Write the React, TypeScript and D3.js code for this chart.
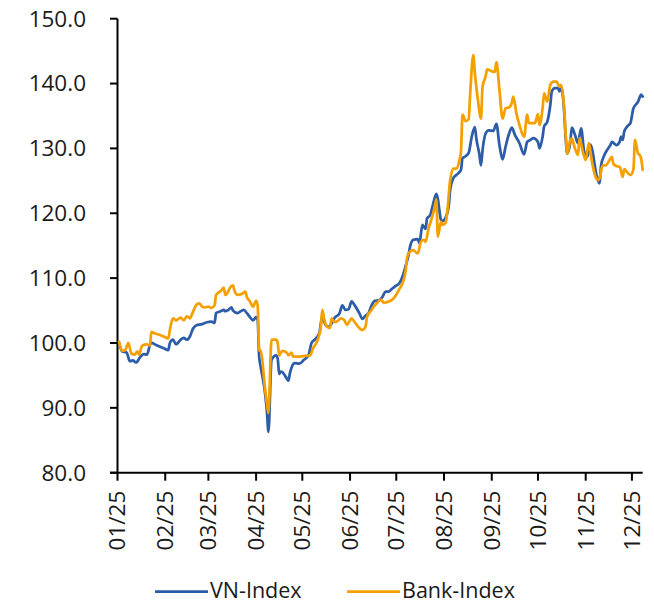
import React from "react";
import * as d3 from "d3";

// VN-Index (rebased, 01/01/2025 = 100)
const vnDates = [
  "2025-01-02","2025-01-04","2025-01-06","2025-01-07","2025-01-09","2025-01-11","2025-01-13","2025-01-16","2025-01-18","2025-01-20",
  "2025-01-21","2025-01-22","2025-01-23","2025-01-26","2025-01-31","2025-02-03","2025-02-04","2025-02-06","2025-02-08","2025-02-11",
  "2025-02-13","2025-02-15","2025-02-17","2025-02-19","2025-02-21","2025-02-25","2025-02-28","2025-03-03","2025-03-05","2025-03-06",
  "2025-03-09","2025-03-11","2025-03-12","2025-03-14","2025-03-16","2025-03-17","2025-03-20","2025-03-22","2025-03-24","2025-03-26",
  "2025-03-28","2025-03-30","2025-04-01","2025-04-02","2025-04-03","2025-04-04","2025-04-07","2025-04-08","2025-04-09","2025-04-11",
  "2025-04-14","2025-04-15","2025-04-16","2025-04-17","2025-04-18","2025-04-21","2025-04-22","2025-04-23","2025-04-24","2025-04-26",
  "2025-04-29","2025-05-02","2025-05-05","2025-05-07","2025-05-09","2025-05-12","2025-05-14","2025-05-16","2025-05-18","2025-05-20",
  "2025-05-22","2025-05-25","2025-05-27","2025-05-29","2025-05-31","2025-06-02","2025-06-04","2025-06-07","2025-06-09","2025-06-11",
  "2025-06-13","2025-06-15","2025-06-17","2025-06-20","2025-06-22","2025-06-24","2025-06-26","2025-06-28","2025-06-30","2025-07-03",
  "2025-07-05","2025-07-07","2025-07-09","2025-07-10","2025-07-12","2025-07-15","2025-07-16","2025-07-18","2025-07-19","2025-07-20",
  "2025-07-21","2025-07-23","2025-07-25","2025-07-27","2025-07-28","2025-07-30","2025-07-31","2025-08-02","2025-08-04","2025-08-05",
  "2025-08-07","2025-08-09","2025-08-12","2025-08-13","2025-08-15","2025-08-17","2025-08-19","2025-08-21","2025-08-22","2025-08-24",
  "2025-08-25","2025-08-26","2025-08-28","2025-08-30","2025-09-02","2025-09-04","2025-09-06","2025-09-08","2025-09-10","2025-09-12",
  "2025-09-14","2025-09-16","2025-09-19","2025-09-22","2025-09-24","2025-09-26","2025-09-28","2025-10-01","2025-10-02","2025-10-04",
  "2025-10-05","2025-10-07","2025-10-09","2025-10-10","2025-10-12","2025-10-14","2025-10-15","2025-10-16","2025-10-18","2025-10-19",
  "2025-10-20","2025-10-22","2025-10-23","2025-10-25","2025-10-27","2025-10-29","2025-10-31","2025-11-02","2025-11-04","2025-11-05",
  "2025-11-08","2025-11-10","2025-11-11","2025-11-13","2025-11-15","2025-11-17","2025-11-18","2025-11-21","2025-11-23","2025-11-24",
  "2025-11-25","2025-11-26","2025-11-28","2025-11-30","2025-12-02","2025-12-05","2025-12-07","2025-12-08"
];
const vnValues = [
  100.0,98.7,98.6,98.5,97.2,97.3,97.0,97.9,98.3,98.2,
  98.7,99.7,100.0,99.7,99.2,98.9,100.0,100.5,99.8,100.5,
  100.8,100.5,101.0,102.2,102.7,102.9,103.2,103.3,103.1,104.6,
  104.9,105.1,104.9,105.1,105.5,105.0,104.6,104.9,105.1,104.6,
  104.0,103.5,104.0,103.6,97.8,96.3,91.9,89.5,86.3,97.4,
  98.1,97.6,95.2,95.6,95.5,94.5,94.2,95.4,96.2,96.9,
  96.8,97.4,98.1,100.0,100.5,101.5,104.1,102.8,102.5,103.0,
  103.9,104.5,105.8,105.1,105.2,106.4,105.8,104.6,103.7,104.2,
  104.6,105.8,106.5,106.6,107.1,107.9,107.9,108.3,108.7,109.2,
  110.2,111.8,113.6,114.9,115.9,116.0,115.4,118.2,117.9,117.6,
  119.2,119.7,121.5,123.0,122.2,119.0,118.8,119.3,121.0,123.6,
  125.4,125.9,126.7,128.5,128.8,129.3,131.8,133.3,131.5,129.0,
  127.4,129.7,132.3,132.8,132.7,133.8,130.5,128.3,130.3,132.1,
  133.2,132.1,130.8,129.1,131.0,131.3,131.6,131.0,130.0,131.8,
  133.4,134.1,136.7,138.8,139.3,139.3,138.8,139.5,135.7,131.6,
  129.2,131.0,133.2,132.1,130.8,133.1,129.5,128.7,130.6,130.0,
  125.9,124.6,127.4,128.9,129.8,130.5,131.0,130.5,131.0,131.8,
  131.3,132.6,133.4,133.9,136.2,137.2,138.3,138.0
];

// Bank-Index (rebased, 01/01/2025 = 100)
const bankDates = [
  "2025-01-02","2025-01-04","2025-01-06","2025-01-08","2025-01-10","2025-01-12","2025-01-14","2025-01-15","2025-01-17","2025-01-20",
  "2025-01-22","2025-01-23","2025-01-25","2025-01-29","2025-02-01","2025-02-03","2025-02-04","2025-02-06","2025-02-08","2025-02-11",
  "2025-02-13","2025-02-15","2025-02-17","2025-02-19","2025-02-21","2025-02-23","2025-02-25","2025-02-27","2025-03-01","2025-03-03",
  "2025-03-05","2025-03-06","2025-03-09","2025-03-11","2025-03-12","2025-03-14","2025-03-15","2025-03-17","2025-03-18","2025-03-20",
  "2025-03-23","2025-03-25","2025-03-26","2025-03-28","2025-03-30","2025-04-01","2025-04-02","2025-04-03","2025-04-04","2025-04-07",
  "2025-04-08","2025-04-09","2025-04-11","2025-04-14","2025-04-15","2025-04-16","2025-04-18","2025-04-21","2025-04-22","2025-04-24",
  "2025-04-25","2025-04-29","2025-05-03","2025-05-06","2025-05-08","2025-05-11","2025-05-13","2025-05-14","2025-05-15","2025-05-17",
  "2025-05-19","2025-05-20","2025-05-22","2025-05-24","2025-05-26","2025-05-28","2025-05-30","2025-06-01","2025-06-02","2025-06-04",
  "2025-06-07","2025-06-09","2025-06-11","2025-06-12","2025-06-15","2025-06-17","2025-06-19","2025-06-21","2025-06-23","2025-06-25",
  "2025-06-28","2025-06-30","2025-07-03","2025-07-05","2025-07-07","2025-07-08","2025-07-10","2025-07-12","2025-07-15","2025-07-17",
  "2025-07-19","2025-07-20","2025-07-22","2025-07-24","2025-07-26","2025-07-27","2025-07-28","2025-07-30","2025-07-31","2025-08-02",
  "2025-08-03","2025-08-05","2025-08-07","2025-08-09","2025-08-11","2025-08-12","2025-08-13","2025-08-15","2025-08-17","2025-08-18",
  "2025-08-20","2025-08-21","2025-08-23","2025-08-25","2025-08-26","2025-08-28","2025-08-29","2025-09-01","2025-09-03","2025-09-04",
  "2025-09-06","2025-09-08","2025-09-10","2025-09-12","2025-09-14","2025-09-15","2025-09-17","2025-09-19","2025-09-22","2025-09-24",
  "2025-09-25","2025-09-27","2025-09-29","2025-10-01","2025-10-02","2025-10-04","2025-10-05","2025-10-07","2025-10-09","2025-10-11",
  "2025-10-13","2025-10-15","2025-10-16","2025-10-18","2025-10-19","2025-10-20","2025-10-22","2025-10-23","2025-10-25","2025-10-27",
  "2025-10-28","2025-10-30","2025-11-01","2025-11-03","2025-11-05","2025-11-07","2025-11-09","2025-11-10","2025-11-12","2025-11-14",
  "2025-11-16","2025-11-18","2025-11-19","2025-11-22","2025-11-23","2025-11-25","2025-11-26","2025-11-28","2025-11-30","2025-12-02",
  "2025-12-03","2025-12-05","2025-12-06","2025-12-07","2025-12-08"
];
const bankValues = [
  100.2,98.8,98.9,100.0,98.4,98.2,98.7,98.2,99.6,99.8,
  99.6,101.7,101.5,101.2,100.9,100.7,102.0,103.8,103.5,103.9,
  103.5,104.1,103.8,104.8,105.8,106.1,105.6,105.5,105.6,105.4,
  105.8,107.4,108.0,108.5,107.4,108.0,108.5,108.9,108.0,107.4,
  107.6,107.9,107.1,106.4,105.6,106.5,105.8,98.9,98.8,92.5,
  90.8,89.2,100.5,100.5,100.0,98.1,98.8,98.5,98.1,98.5,
  97.9,97.9,98.0,98.1,99.2,100.5,102.5,105.1,103.9,102.5,
  102.3,103.8,103.2,103.4,103.8,103.6,102.8,103.5,103.8,103.2,
  102.3,102.0,102.5,104.0,105.1,105.8,106.3,106.7,106.2,106.3,
  106.6,107.1,108.3,109.2,111.0,113.1,114.1,114.3,113.8,115.6,
  115.9,115.6,117.7,119.2,121.0,122.1,116.4,118.7,118.2,118.5,
  120.0,125.1,126.9,126.9,128.2,129.5,135.2,134.2,134.5,138.5,
  144.4,141.6,137.5,134.6,139.5,141.1,142.2,141.9,141.8,143.3,
  139.0,134.6,136.2,136.3,137.0,138.0,135.4,133.6,131.8,135.2,
  133.9,133.9,133.9,135.3,133.6,136.2,138.5,137.2,139.8,140.3,
  140.3,139.5,139.8,136.2,132.1,129.2,131.3,131.5,130.0,129.0,
  131.6,129.6,128.2,130.8,128.0,125.9,125.1,125.4,127.4,127.4,
  128.0,128.7,127.6,127.2,127.2,125.6,126.8,126.3,125.9,126.8,
  131.3,129.2,129.0,128.4,126.7
];

const seriesNames = ["VN-Index", "Bank-Index"];
const seriesColors = ["#2d5da8", "#f5a000"];
const yTicks = [80, 90, 100, 110, 120, 130, 140, 150];
const monthTicks = ["2025-01-01","2025-02-01","2025-03-01","2025-04-01","2025-05-01","2025-06-01",
  "2025-07-01","2025-08-01","2025-09-01","2025-10-01","2025-11-01","2025-12-01"];
const xDomain = ["2025-01-01", "2025-12-08"];

const FONT = "'Open Sans', 'Noto Sans', sans-serif";

export default function App() {
  const W = 654, H = 604;
  const left = 117.5, right = 642.7, top = 18.7, bottom = 472.7;
  const parse = d3.timeParse("%Y-%m-%d");
  const x = d3.scaleTime().domain(xDomain.map((d) => parse(d) as Date)).range([left, right]);
  const y = d3.scaleLinear().domain([80, 150]).range([bottom, top]);
  const fmt = d3.timeFormat("%m/%y");

  const line = d3.line<[Date, number]>()
    .x((d) => x(d[0]))
    .y((d) => y(d[1]))
    .curve(d3.curveMonotoneX);

  const series = [
    vnDates.map((d, i) => [parse(d) as Date, vnValues[i]] as [Date, number]),
    bankDates.map((d, i) => [parse(d) as Date, bankValues[i]] as [Date, number]),
  ];

  const legendY = 590;
  const legendItems = [
    { x1: 155, x2: 208, tx: 210 },
    { x1: 347, x2: 400, tx: 402 },
  ];

  return (
    <svg width={W} height={H} style={{ position: "absolute", left: 0, top: 0, background: "#fff" }}
      fontFamily={FONT}>
      <rect x={0} y={0} width={W} height={H} fill="#fff" />
      {/* Y axis */}
      <line x1={left} x2={left} y1={y(150)} y2={bottom} stroke="#000" strokeWidth={2} />
      {yTicks.map((t) => (
        <g key={t}>
          <line x1={left - 7.5} x2={left} y1={y(t)} y2={y(t)} stroke="#000" strokeWidth={2} />
          <text x={86} y={y(t)} dy="0.35em" textAnchor="end" fontSize={22.5} fill="#1a1a1a">
            {t.toFixed(1)}
          </text>
        </g>
      ))}
      {/* X axis */}
      <line x1={left - 7.5} x2={right} y1={bottom} y2={bottom} stroke="#000" strokeWidth={2} />
      {monthTicks.map((m) => {
        const d = parse(m) as Date;
        const px = x(d);
        return (
          <g key={m}>
            <line x1={px} x2={px} y1={bottom} y2={bottom + 8} stroke="#000" strokeWidth={2} />
            <text transform={`translate(${px},${bottom + 18}) rotate(-90)`} dy="0.35em"
              textAnchor="end" fontSize={22.5} fill="#1a1a1a">
              {fmt(d)}
            </text>
          </g>
        );
      })}
      {/* Lines */}
      {series.map((s, i) => (
        <path key={i} d={line(s) || ""} fill="none" stroke={seriesColors[i]} strokeWidth={2.75}
          strokeLinejoin="round" strokeLinecap="round" />
      ))}
      {/* Legend */}
      {legendItems.map((it, i) => (
        <g key={i}>
          <line x1={it.x1} x2={it.x2} y1={legendY + 1.5} y2={legendY + 1.5} stroke={seriesColors[i]} strokeWidth={2.75} />
          <text x={it.tx} y={legendY} dy="0.35em" fontSize={21.5} fill="#1a1a1a">{seriesNames[i]}</text>
        </g>
      ))}
    </svg>
  );
}
